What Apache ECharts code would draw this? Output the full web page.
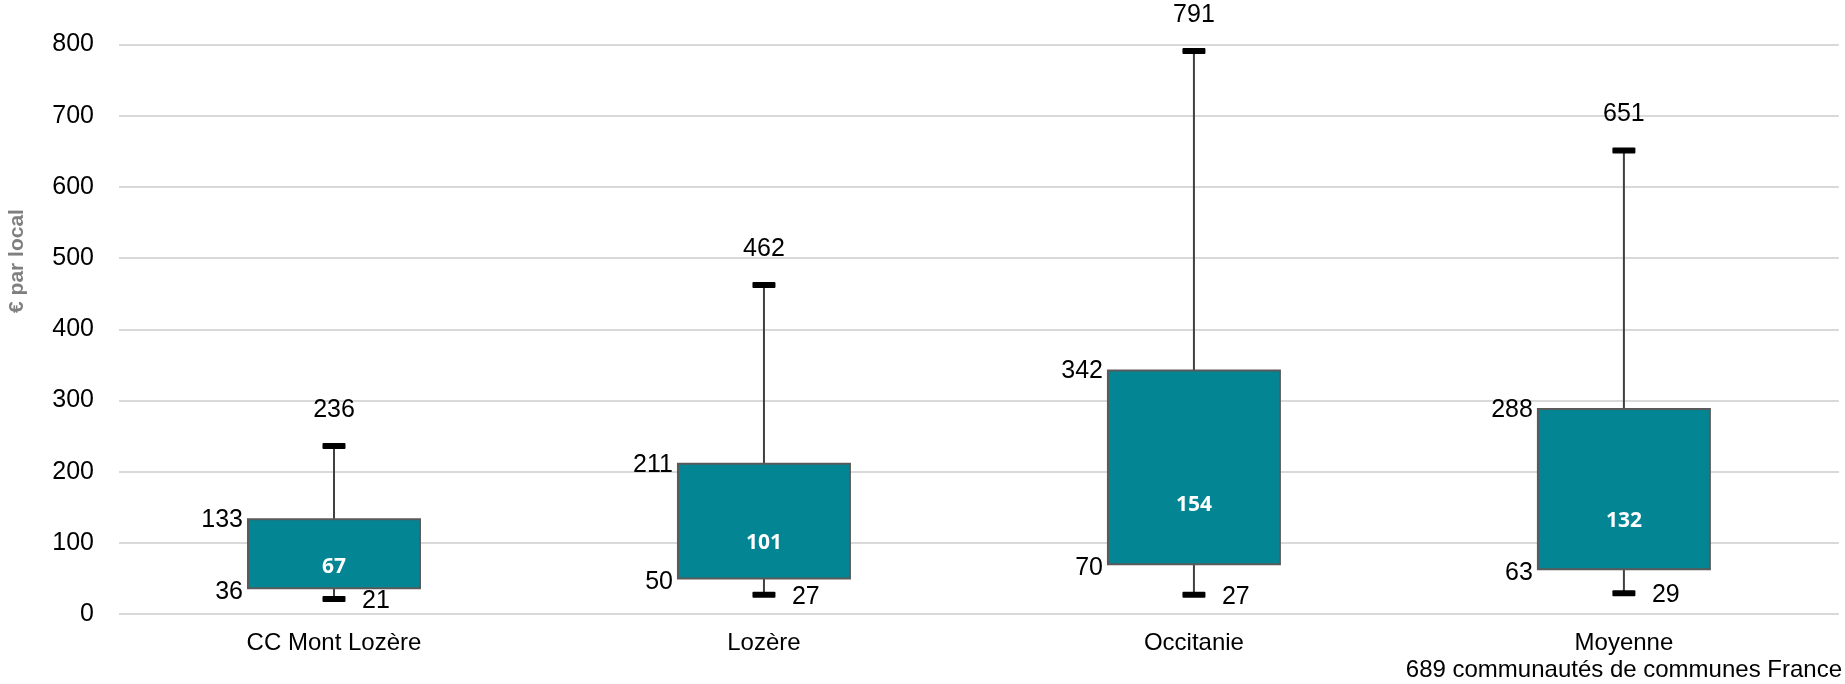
<!DOCTYPE html>
<html>
<head>
<meta charset="utf-8">
<title>€ par local</title>
<script src="https://cdn.jsdelivr.net/npm/echarts@6/dist/echarts.min.js"></script>
<style>
  html, body { margin: 0; padding: 0; background: #ffffff; }
  #chart { width: 1845px; height: 684px; }
</style>
</head>
<body>
<div id="chart"></div>
<script>
// Box-and-whisker summary per territory (€ per local)
const categories = [
  'CC Mont Lozère',
  'Lozère',
  'Occitanie',
  'Moyenne\n689 communautés de communes France'
];
const minVals    = [21, 27, 27, 29];
const q1Vals     = [36, 50, 70, 63];
const medianVals = [67, 101, 154, 132];
const q3Vals     = [133, 211, 342, 288];
const maxVals    = [236, 462, 791, 651];

const yTicks = { min: 0, max: 800, interval: 100 };
const axisTitle = '€ par local';

const NUM_FONT = '25px "Liberation Sans", Arial, sans-serif';
const MED_FONT = 'bold 21px "Open Sans", "Liberation Sans", sans-serif';

const seriesData = categories.map((c, i) => [i, minVals[i], q1Vals[i], medianVals[i], q3Vals[i], maxVals[i]]);

function renderBox(params, api) {
  const idx = api.value(0);
  const vMin = api.value(1), vQ1 = api.value(2), vMed = api.value(3), vQ3 = api.value(4), vMax = api.value(5);
  const band = api.size([1, 0])[0];
  const boxW = band * 0.4;
  const capW = 23;
  const pMin = api.coord([idx, vMin]);
  const pQ1 = api.coord([idx, vQ1]);
  const pMed = api.coord([idx, vMed]);
  const pQ3 = api.coord([idx, vQ3]);
  const pMax = api.coord([idx, vMax]);
  const cx = pMin[0];
  const left = cx - boxW / 2;

  const children = [
    // upper whisker
    { type: 'line', shape: { x1: cx, y1: pQ3[1], x2: cx, y2: pMax[1] },
      style: { stroke: '#404040', lineWidth: 2 } },
    // lower whisker
    { type: 'line', shape: { x1: cx, y1: pQ1[1], x2: cx, y2: pMin[1] },
      style: { stroke: '#404040', lineWidth: 2 } },
    // caps
    { type: 'rect', shape: { x: cx - capW / 2, y: pMax[1] - 3, width: capW, height: 6, r: 1 },
      style: { fill: '#000000' } },
    { type: 'rect', shape: { x: cx - capW / 2, y: pMin[1] - 3, width: capW, height: 6, r: 1 },
      style: { fill: '#000000' } },
    // interquartile box
    { type: 'rect', shape: { x: left, y: pQ3[1], width: boxW, height: pQ1[1] - pQ3[1] },
      style: { fill: '#038594', stroke: '#5a5a5a', lineWidth: 2 } },
    // labels
    { type: 'text', style: { text: String(vMax), x: cx, y: pMax[1] - 36, align: 'center', verticalAlign: 'middle',
      font: NUM_FONT, fill: '#000000' } },
    { type: 'text', style: { text: String(vQ3), x: left - 5, y: pQ3[1] + 1, align: 'right', verticalAlign: 'middle',
      font: NUM_FONT, fill: '#000000' } },
    { type: 'text', style: { text: String(vQ1), x: left - 5, y: pQ1[1] + 4, align: 'right', verticalAlign: 'middle',
      font: NUM_FONT, fill: '#000000' } },
    { type: 'text', style: { text: String(vMin), x: cx + 28, y: pMin[1] + 2, align: 'left', verticalAlign: 'middle',
      font: NUM_FONT, fill: '#000000' } },
    { type: 'text', style: { text: String(vMed), x: cx, y: pMed[1] + 1, align: 'center', verticalAlign: 'middle',
      font: MED_FONT, fill: '#ffffff' } }
  ];
  return { type: 'group', children: children };
}

const chart = echarts.init(document.getElementById('chart'), null, { renderer: 'canvas' });
chart.setOption({
  animation: false,
  backgroundColor: '#ffffff',
  grid: { left: 119, right: 6, top: 44.5, bottom: 69.5, containLabel: false },
  xAxis: {
    type: 'category',
    data: categories,
    axisLine: { show: false },
    axisTick: { show: false },
    axisLabel: {
      color: '#000000',
      fontFamily: '"Liberation Sans", Arial, sans-serif',
      fontSize: 24,
      lineHeight: 27,
      margin: 16,
      interval: 0
    },
    splitLine: { show: false }
  },
  yAxis: {
    type: 'value',
    min: yTicks.min,
    max: yTicks.max,
    interval: yTicks.interval,
    axisLine: { show: false },
    axisTick: { show: false },
    axisLabel: {
      color: '#000000',
      fontFamily: '"Liberation Sans", Arial, sans-serif',
      fontSize: 25,
      margin: 25
    },
    splitLine: { show: true, lineStyle: { color: '#d9d9d9', width: 2 } }
  },
  graphic: [{
    type: 'text',
    x: 17,
    y: 261,
    rotation: Math.PI / 2,
    style: {
      text: axisTitle,
      font: 'bold 21px "Liberation Sans", Arial, sans-serif',
      fill: '#7f7f7f',
      align: 'center',
      verticalAlign: 'middle'
    }
  }],
  series: [{
    type: 'custom',
    renderItem: renderBox,
    encode: { x: 0, y: [1, 2, 3, 4, 5] },
    data: seriesData,
    clip: false
  }]
});
</script>
</body>
</html>
